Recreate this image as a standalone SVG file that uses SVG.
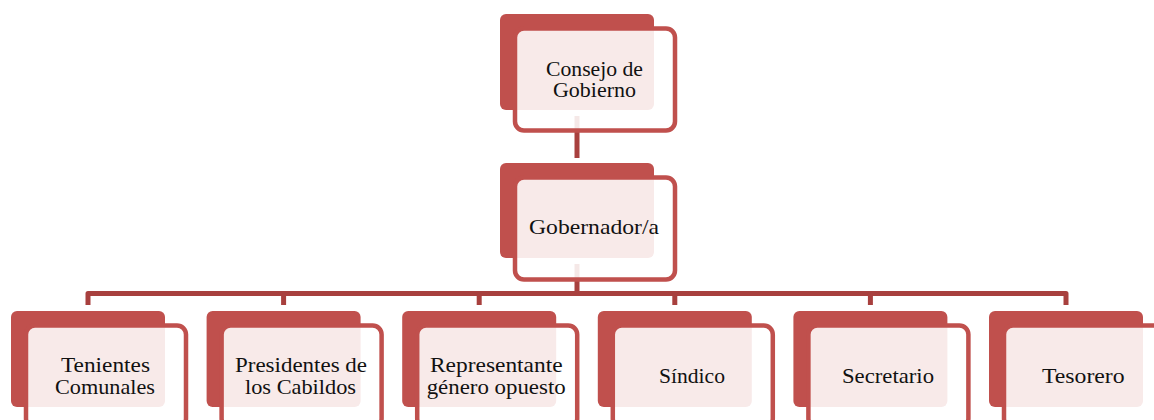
<svg xmlns="http://www.w3.org/2000/svg" width="1154" height="420" viewBox="0 0 1154 420">
<style>
.back{fill:#C0504D}
.front{fill:#ffffff;fill-opacity:0.88;stroke:#C0504D;stroke-width:4.5}
.conn{fill:none;stroke:#A8403E;stroke-width:5;stroke-linejoin:round}
text{font-family:"Liberation Serif","Times New Roman",serif;font-size:22px;fill:#111;text-anchor:middle}
</style>
<rect width="1154" height="420" fill="#fff"/>
<g id="connectors">
<path class="conn" d="M577,116 V158"/>
<path class="conn" d="M577,264 V293.5"/>
<path class="conn" d="M88,305 V293.5 H1066 V305"/>
<path class="conn" d="M283.6,293.5 V305 M479.2,293.5 V305 M674.8,293.5 V305 M870.4,293.5 V305"/>
</g>
<g id="consejo">
<rect class="back" x="500" y="14" width="154" height="96" rx="6"/>
<rect class="front" x="515" y="28.5" width="160" height="102" rx="9"/>
<text x="594.5" y="76" textLength="97" lengthAdjust="spacingAndGlyphs">Consejo de</text>
<text x="594.5" y="97" textLength="83" lengthAdjust="spacingAndGlyphs">Gobierno</text>
</g>
<g id="gobernador">
<rect class="back" x="500" y="163" width="154" height="95" rx="6"/>
<rect class="front" x="515" y="177.5" width="160" height="102" rx="9"/>
<text x="594" y="234" textLength="130" lengthAdjust="spacingAndGlyphs">Gobernador/a</text>
</g>
<g id="tenientes">
<rect class="back" x="11" y="311" width="154" height="96" rx="6"/>
<rect class="front" x="26" y="325.5" width="160" height="102" rx="9"/>
<text x="105.5" y="372" textLength="89" lengthAdjust="spacingAndGlyphs">Tenientes</text>
<text x="105" y="393.5" textLength="100" lengthAdjust="spacingAndGlyphs">Comunales</text>
</g>
<g id="presidentes">
<rect class="back" x="206.6" y="311" width="154" height="96" rx="6"/>
<rect class="front" x="221.6" y="325.5" width="160" height="102" rx="9"/>
<text x="301" y="372" textLength="132" lengthAdjust="spacingAndGlyphs">Presidentes de</text>
<text x="300.5" y="393.5" textLength="111" lengthAdjust="spacingAndGlyphs">los Cabildos</text>
</g>
<g id="representante">
<rect class="back" x="402.2" y="311" width="154" height="96" rx="6"/>
<rect class="front" x="417.2" y="325.5" width="160" height="102" rx="9"/>
<text x="496.3" y="372" textLength="132.7" lengthAdjust="spacingAndGlyphs">Representante</text>
<text x="496.2" y="393.5" textLength="139" lengthAdjust="spacingAndGlyphs">género opuesto</text>
</g>
<g id="sindico">
<rect class="back" x="597.8" y="311" width="154" height="96" rx="6"/>
<rect class="front" x="612.8" y="325.5" width="160" height="102" rx="9"/>
<text x="692" y="383" textLength="66" lengthAdjust="spacingAndGlyphs">Síndico</text>
</g>
<g id="secretario">
<rect class="back" x="793.4" y="311" width="154" height="96" rx="6"/>
<rect class="front" x="808.4" y="325.5" width="160" height="102" rx="9"/>
<text x="888" y="383" textLength="92" lengthAdjust="spacingAndGlyphs">Secretario</text>
</g>
<g id="tesorero">
<rect class="back" x="989" y="311" width="154" height="96" rx="6"/>
<rect class="front" x="1004" y="325.5" width="160" height="102" rx="9"/>
<text x="1083.3" y="383" textLength="82.7" lengthAdjust="spacingAndGlyphs">Tesorero</text>
</g>
</svg>
